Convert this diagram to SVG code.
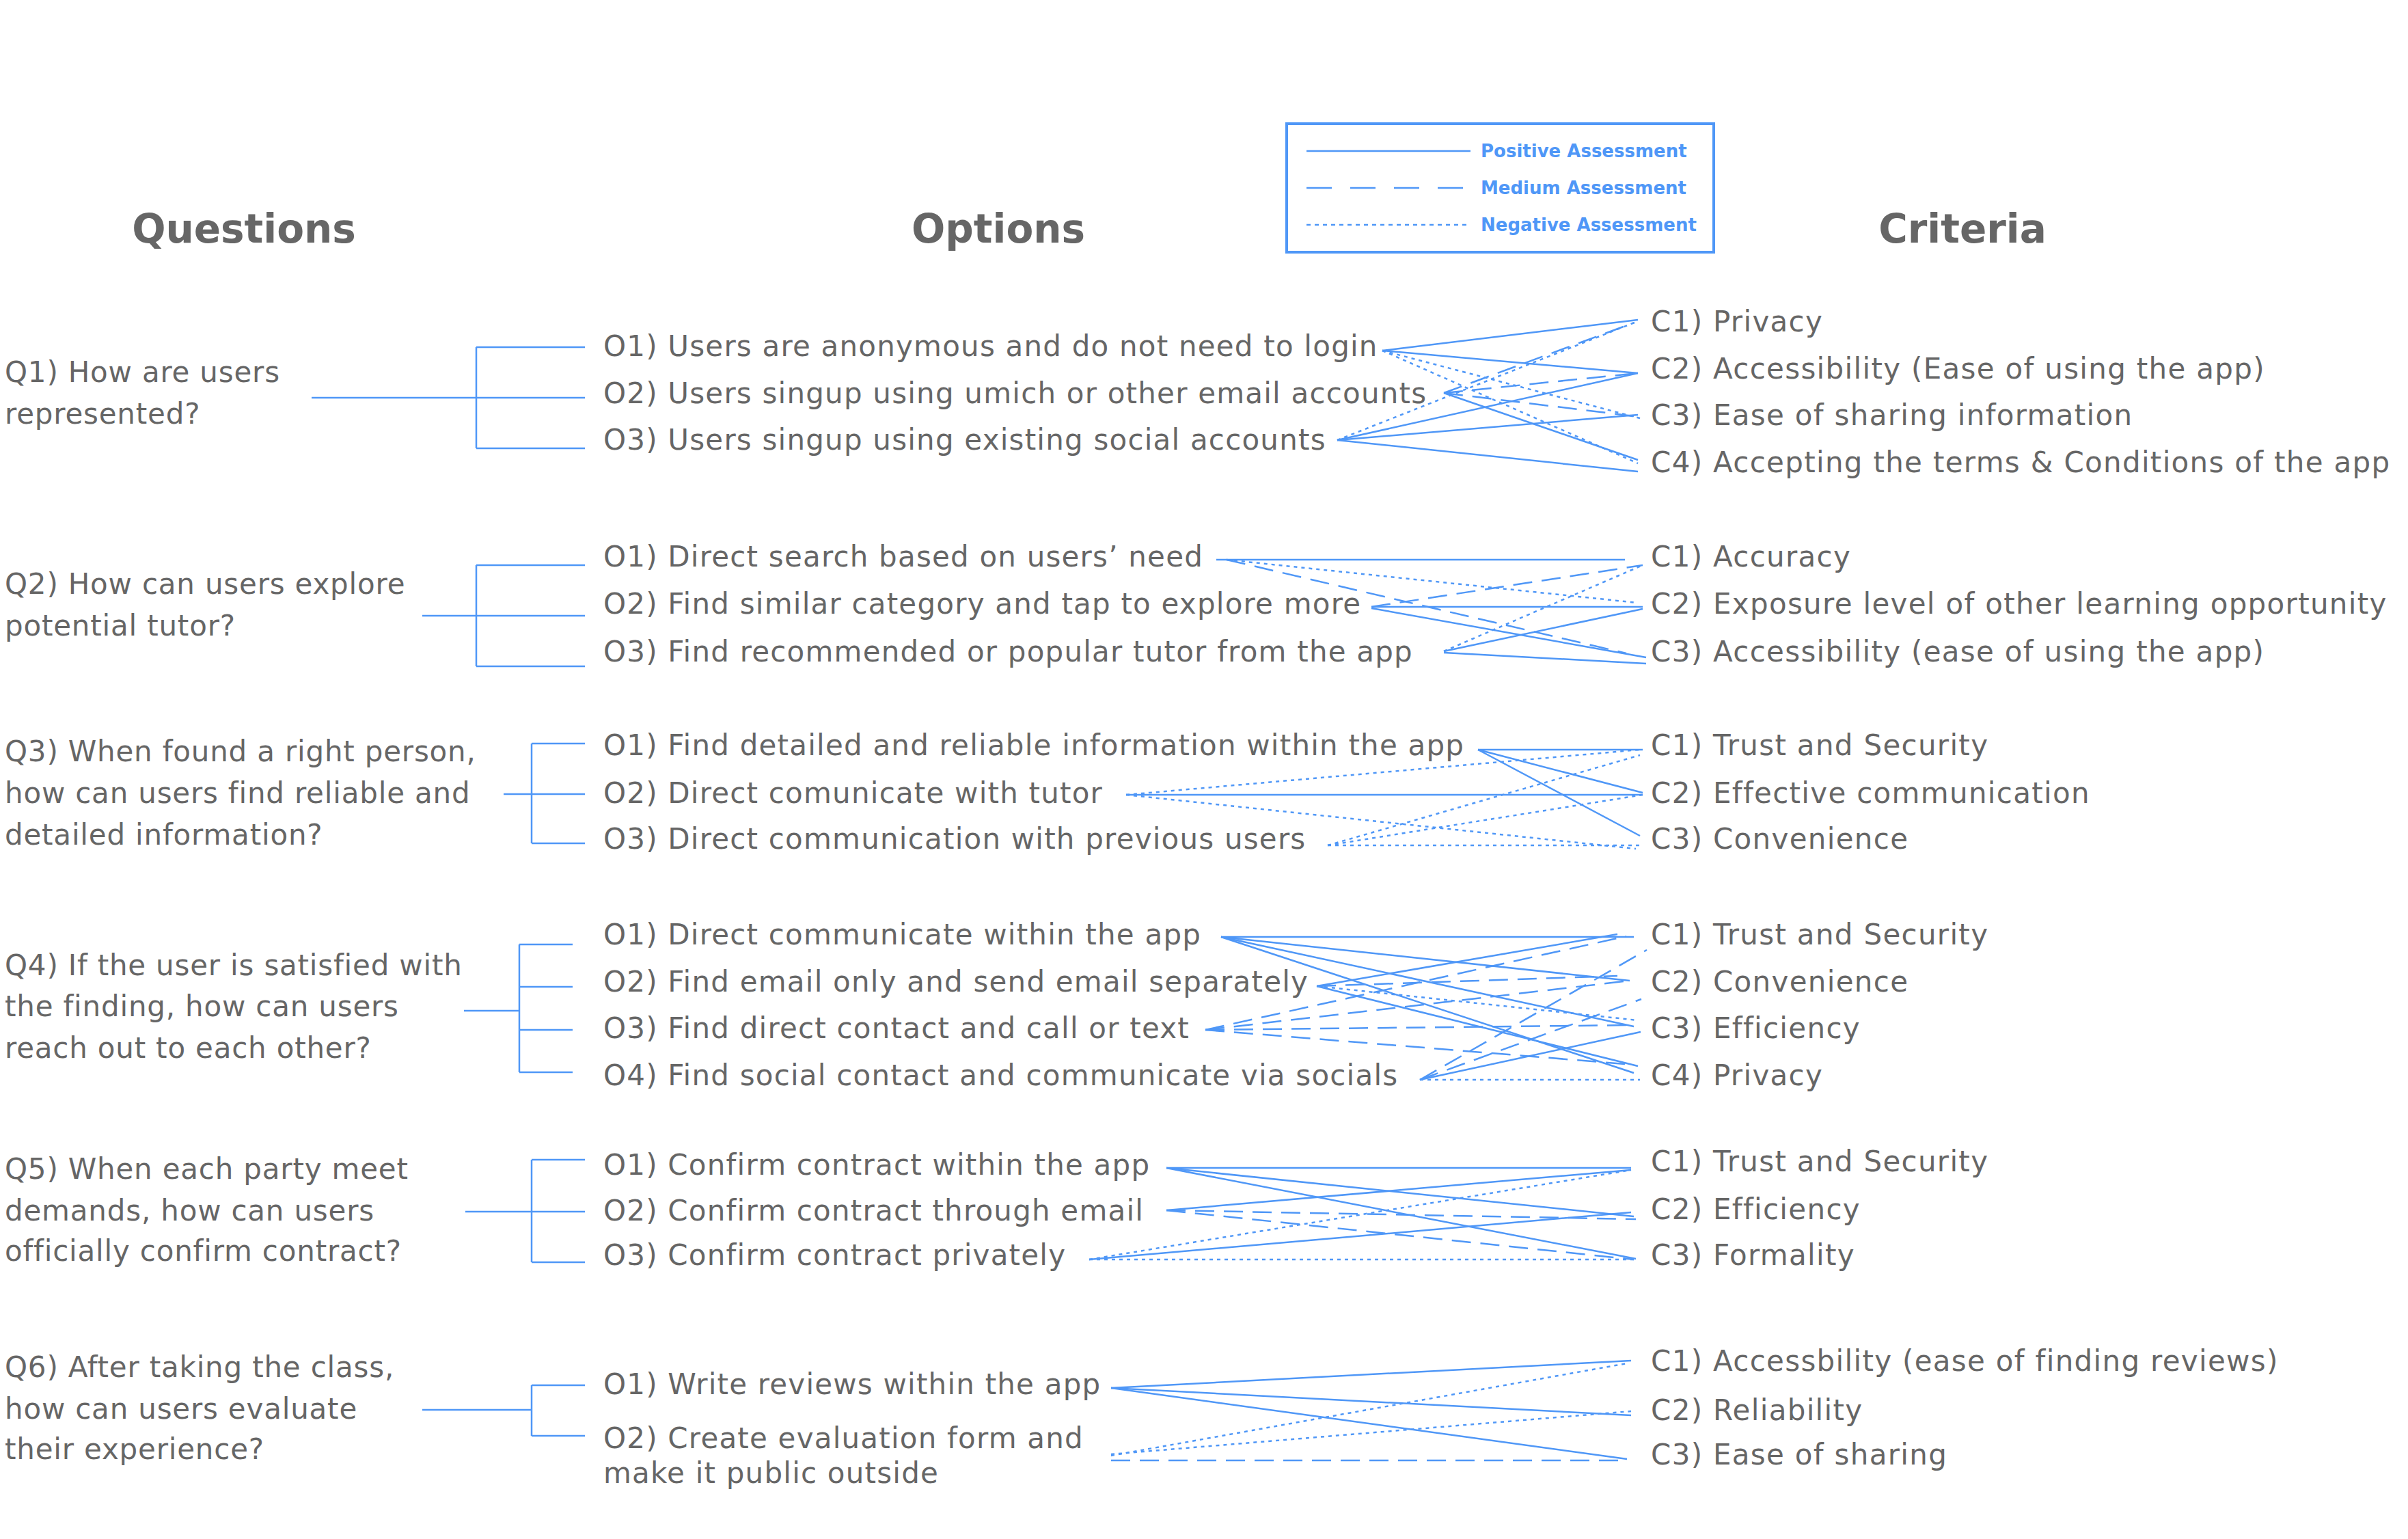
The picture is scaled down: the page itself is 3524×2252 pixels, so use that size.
<svg xmlns="http://www.w3.org/2000/svg" width="3524" height="2252" viewBox="0 0 3524 2252">
<style>
.t{font-family:"DejaVu Sans","Liberation Sans",sans-serif;font-size:42px;fill:#666666;letter-spacing:1px}
.o{letter-spacing:1.2px}
.c{letter-spacing:1.3px}
.q{letter-spacing:0.8px}
.h{font-family:"DejaVu Sans","Liberation Sans",sans-serif;font-size:58px;font-weight:bold;fill:#666666;text-anchor:middle}
.lg{font-family:"DejaVu Sans","Liberation Sans",sans-serif;font-size:26px;font-weight:bold;fill:#4f97f7}
.br{stroke:#4f97f7;stroke-width:2.5;fill:none}
.pos{stroke:#4f97f7;stroke-width:2.5;fill:none}
.med{stroke:#4f97f7;stroke-width:2.5;fill:none;stroke-dasharray:28 14}
.neg{stroke:#4f97f7;stroke-width:2.5;fill:none;stroke-dasharray:5 6}
</style>
<rect width="3524" height="2252" fill="#ffffff"/>

<g id="headers">
<text class="h" x="357" y="355">Questions</text>
<text class="h" x="1461" y="355">Options</text>
<text class="h" x="2872" y="355">Criteria</text>
</g>

<g id="legend">
<rect x="1883" y="181" width="625" height="188" fill="none" stroke="#4f97f7" stroke-width="4"/>
<line class="pos" x1="1912" y1="221" x2="2152" y2="221"/>
<line class="pos" x1="1912" y1="275" x2="2152" y2="275" stroke-dasharray="37 27"/>
<line class="pos" x1="1912" y1="329" x2="2152" y2="329" stroke-dasharray="6 6"/>
<text class="lg" x="2167" y="230">Positive Assessment</text>
<text class="lg" x="2167" y="284">Medium Assessment</text>
<text class="lg" x="2167" y="338">Negative Assessment</text>
</g>

<!-- Q1 -->
<g id="q1"><text class="t q" x="7" y="559">Q1) How are users</text><text class="t q" x="7" y="620">represented?</text></g>
<g id="q1o1"><text class="t o" x="883" y="521">O1) Users are anonymous and do not need to login</text></g>
<g id="q1o2"><text class="t o" x="883" y="590">O2) Users singup using umich or other email accounts</text></g>
<g id="q1o3"><text class="t o" x="883" y="658">O3) Users singup using existing social accounts</text></g>
<g id="q1c1"><text class="t c" x="2416" y="485">C1) Privacy</text></g>
<g id="q1c2"><text class="t c" x="2416" y="554">C2) Accessibility (Ease of using the app)</text></g>
<g id="q1c3"><text class="t c" x="2416" y="622">C3) Ease of sharing information</text></g>
<g id="q1c4"><text class="t c" x="2416" y="691">C4) Accepting the terms &amp; Conditions of the app</text></g>

<!-- Q2 -->
<g id="q2"><text class="t q" x="7" y="869">Q2) How can users explore</text><text class="t q" x="7" y="930">potential tutor?</text></g>
<g id="q2o1"><text class="t o" x="883" y="829">O1) Direct search based on users’ need</text></g>
<g id="q2o2"><text class="t o" x="883" y="898">O2) Find similar category and tap to explore more</text></g>
<g id="q2o3"><text class="t o" x="883" y="968">O3) Find recommended or popular tutor from the app</text></g>
<g id="q2c1"><text class="t c" x="2416" y="829">C1) Accuracy</text></g>
<g id="q2c2"><text class="t c" x="2416" y="898">C2) Exposure level of other learning opportunity</text></g>
<g id="q2c3"><text class="t c" x="2416" y="968">C3) Accessibility (ease of using the app)</text></g>

<!-- Q3 -->
<g id="q3"><text class="t q" x="7" y="1114">Q3) When found a right person,</text><text class="t q" x="7" y="1175">how can users find reliable and</text><text class="t q" x="7" y="1236">detailed information?</text></g>
<g id="q3o1"><text class="t o" x="883" y="1105">O1) Find detailed and reliable information within the app</text></g>
<g id="q3o2"><text class="t o" x="883" y="1175">O2) Direct comunicate with tutor</text></g>
<g id="q3o3"><text class="t o" x="883" y="1242">O3) Direct communication with previous users</text></g>
<g id="q3c1"><text class="t c" x="2416" y="1105">C1) Trust and Security</text></g>
<g id="q3c2"><text class="t c" x="2416" y="1175">C2) Effective communication</text></g>
<g id="q3c3"><text class="t c" x="2416" y="1242">C3) Convenience</text></g>

<!-- Q4 -->
<g id="q4"><text class="t q" x="7" y="1427">Q4) If the user is satisfied with</text><text class="t q" x="7" y="1487">the finding, how can users</text><text class="t q" x="7" y="1548">reach out to each other?</text></g>
<g id="q4o1"><text class="t o" x="883" y="1382">O1) Direct communicate within the app</text></g>
<g id="q4o2"><text class="t o" x="883" y="1451">O2) Find email only and send email separately</text></g>
<g id="q4o3"><text class="t o" x="883" y="1519">O3) Find direct contact and call or text</text></g>
<g id="q4o4"><text class="t o" x="883" y="1588">O4) Find social contact and communicate via socials</text></g>
<g id="q4c1"><text class="t c" x="2416" y="1382">C1) Trust and Security</text></g>
<g id="q4c2"><text class="t c" x="2416" y="1451">C2) Convenience</text></g>
<g id="q4c3"><text class="t c" x="2416" y="1519">C3) Efficiency</text></g>
<g id="q4c4"><text class="t c" x="2416" y="1588">C4) Privacy</text></g>

<!-- Q5 -->
<g id="q5"><text class="t q" x="7" y="1725">Q5) When each party meet</text><text class="t q" x="7" y="1786">demands, how can users</text><text class="t q" x="7" y="1845">officially confirm contract?</text></g>
<g id="q5o1"><text class="t o" x="883" y="1719">O1) Confirm contract within the app</text></g>
<g id="q5o2"><text class="t o" x="883" y="1786">O2) Confirm contract through email</text></g>
<g id="q5o3"><text class="t o" x="883" y="1851">O3) Confirm contract privately</text></g>
<g id="q5c1"><text class="t c" x="2416" y="1714">C1) Trust and Security</text></g>
<g id="q5c2"><text class="t c" x="2416" y="1784">C2) Efficiency</text></g>
<g id="q5c3"><text class="t c" x="2416" y="1851">C3) Formality</text></g>

<!-- Q6 -->
<g id="q6"><text class="t q" x="7" y="2015">Q6) After taking the class,</text><text class="t q" x="7" y="2076">how can users evaluate</text><text class="t q" x="7" y="2135">their experience?</text></g>
<g id="q6o1"><text class="t o" x="883" y="2040">O1) Write reviews within the app</text></g>
<g id="q6o2"><text class="t o" x="883" y="2119">O2) Create evaluation form and</text><text class="t o" x="883" y="2170">make it public outside</text></g>
<g id="q6c1"><text class="t c" x="2416" y="2006">C1) Accessbility (ease of finding reviews)</text></g>
<g id="q6c2"><text class="t c" x="2416" y="2078">C2) Reliability</text></g>
<g id="q6c3"><text class="t c" x="2416" y="2143">C3) Ease of sharing</text></g>

<g id="connectors">
<!-- brackets -->
<path class="br" d="M456 582H697M697 508V656M697 508H856M697 582H856M697 656H856"/>
<path class="br" d="M618 901H697M697 827V975M697 827H856M697 901H856M697 975H856"/>
<path class="br" d="M737 1162H778M778 1088V1234M778 1088H856M778 1162H856M778 1234H856"/>
<path class="br" d="M679 1479H760M760 1382V1569M760 1382H838M760 1444H838M760 1507H838M760 1569H838"/>
<path class="br" d="M681 1773H778M778 1697V1847M778 1697H856M778 1773H856M778 1847H856"/>
<path class="br" d="M618 2063H778M778 2027V2101M778 2027H856M778 2101H856"/>

<!-- Q1 -->
<line class="pos" x1="2023" y1="513" x2="2397" y2="468"/>
<line class="pos" x1="2023" y1="513" x2="2397" y2="546"/>
<line class="neg" x1="2023" y1="513" x2="2400" y2="612"/>
<line class="neg" x1="2023" y1="513" x2="2397" y2="678"/>
<line class="med" x1="2113" y1="575" x2="2392" y2="472"/>
<line class="med" x1="2113" y1="575" x2="2397" y2="546"/>
<line class="med" x1="2113" y1="575" x2="2400" y2="610"/>
<line class="pos" x1="2113" y1="575" x2="2397" y2="673"/>
<line class="neg" x1="1957" y1="644" x2="2392" y2="472"/>
<line class="pos" x1="1957" y1="644" x2="2397" y2="546"/>
<line class="pos" x1="1957" y1="644" x2="2397" y2="607"/>
<line class="pos" x1="1957" y1="644" x2="2397" y2="690"/>

<!-- Q2 -->
<line class="pos" x1="1780" y1="819" x2="2378" y2="819"/>
<line class="neg" x1="1795" y1="819" x2="2396" y2="882"/>
<line class="med" x1="1795" y1="819" x2="2380" y2="956"/>
<line class="med" x1="2007" y1="888" x2="2404" y2="827"/>
<line class="pos" x1="2007" y1="888" x2="2404" y2="888"/>
<line class="pos" x1="2007" y1="890" x2="2409" y2="962"/>
<line class="neg" x1="2113" y1="953" x2="2404" y2="827"/>
<line class="pos" x1="2113" y1="953" x2="2404" y2="891"/>
<line class="pos" x1="2113" y1="955" x2="2409" y2="971"/>

<!-- Q3 -->
<line class="pos" x1="2163" y1="1097" x2="2404" y2="1097"/>
<line class="pos" x1="2163" y1="1097" x2="2404" y2="1160"/>
<line class="pos" x1="2163" y1="1097" x2="2400" y2="1223"/>
<line class="neg" x1="1648" y1="1163" x2="2400" y2="1097"/>
<line class="pos" x1="1648" y1="1163" x2="2404" y2="1163"/>
<line class="neg" x1="1648" y1="1163" x2="2394" y2="1242"/>
<line class="neg" x1="1943" y1="1237" x2="2400" y2="1105"/>
<line class="neg" x1="1943" y1="1237" x2="2404" y2="1163"/>
<line class="neg" x1="1943" y1="1237" x2="2404" y2="1237"/>

<!-- Q4 -->
<line class="pos" x1="1787" y1="1371" x2="2391" y2="1371"/>
<line class="pos" x1="1787" y1="1371" x2="2385" y2="1435"/>
<line class="pos" x1="1787" y1="1371" x2="2391" y2="1502"/>
<line class="pos" x1="1787" y1="1371" x2="2391" y2="1570"/>
<line class="pos" x1="1927" y1="1443" x2="2367" y2="1367"/>
<line class="med" x1="1927" y1="1443" x2="2367" y2="1428"/>
<line class="neg" x1="1927" y1="1443" x2="2397" y2="1493"/>
<line class="pos" x1="1927" y1="1443" x2="2397" y2="1560"/>
<line class="med" x1="1764" y1="1507" x2="2380" y2="1370"/>
<line class="med" x1="1764" y1="1507" x2="2385" y2="1435"/>
<line class="med" x1="1764" y1="1507" x2="2391" y2="1500"/>
<line class="med" x1="1764" y1="1507" x2="2391" y2="1558"/>
<line class="med" x1="2078" y1="1580" x2="2410" y2="1390" stroke-width="1.5"/>
<line class="med" x1="2078" y1="1580" x2="2402" y2="1462" stroke-width="1.5"/>
<line class="pos" x1="2078" y1="1580" x2="2401" y2="1510"/>
<line class="neg" x1="2078" y1="1580" x2="2400" y2="1580"/>

<!-- Q5 -->
<line class="pos" x1="1707" y1="1709" x2="2387" y2="1709"/>
<line class="pos" x1="1707" y1="1709" x2="2391" y2="1780"/>
<line class="pos" x1="1707" y1="1709" x2="2394" y2="1842"/>
<line class="pos" x1="1707" y1="1771" x2="2387" y2="1712"/>
<line class="med" x1="1707" y1="1771" x2="2394" y2="1784"/>
<line class="med" x1="1707" y1="1771" x2="2391" y2="1843"/>
<line class="neg" x1="1594" y1="1843" x2="2387" y2="1712" stroke-dasharray="10 8"/>
<line class="pos" x1="1594" y1="1843" x2="2387" y2="1774"/>
<line class="neg" x1="1594" y1="1843" x2="2394" y2="1843"/>

<!-- Q6 -->
<line class="pos" x1="1626" y1="2031" x2="2387" y2="1991"/>
<line class="pos" x1="1626" y1="2031" x2="2387" y2="2071"/>
<line class="pos" x1="1626" y1="2031" x2="2381" y2="2135"/>
<line class="neg" x1="1626" y1="2130" x2="2381" y2="1995"/>
<line class="neg" x1="1626" y1="2128" x2="2387" y2="2065"/>
<line class="med" x1="1626" y1="2137" x2="2381" y2="2137" stroke-width="3.5"/>
</g>
</svg>
